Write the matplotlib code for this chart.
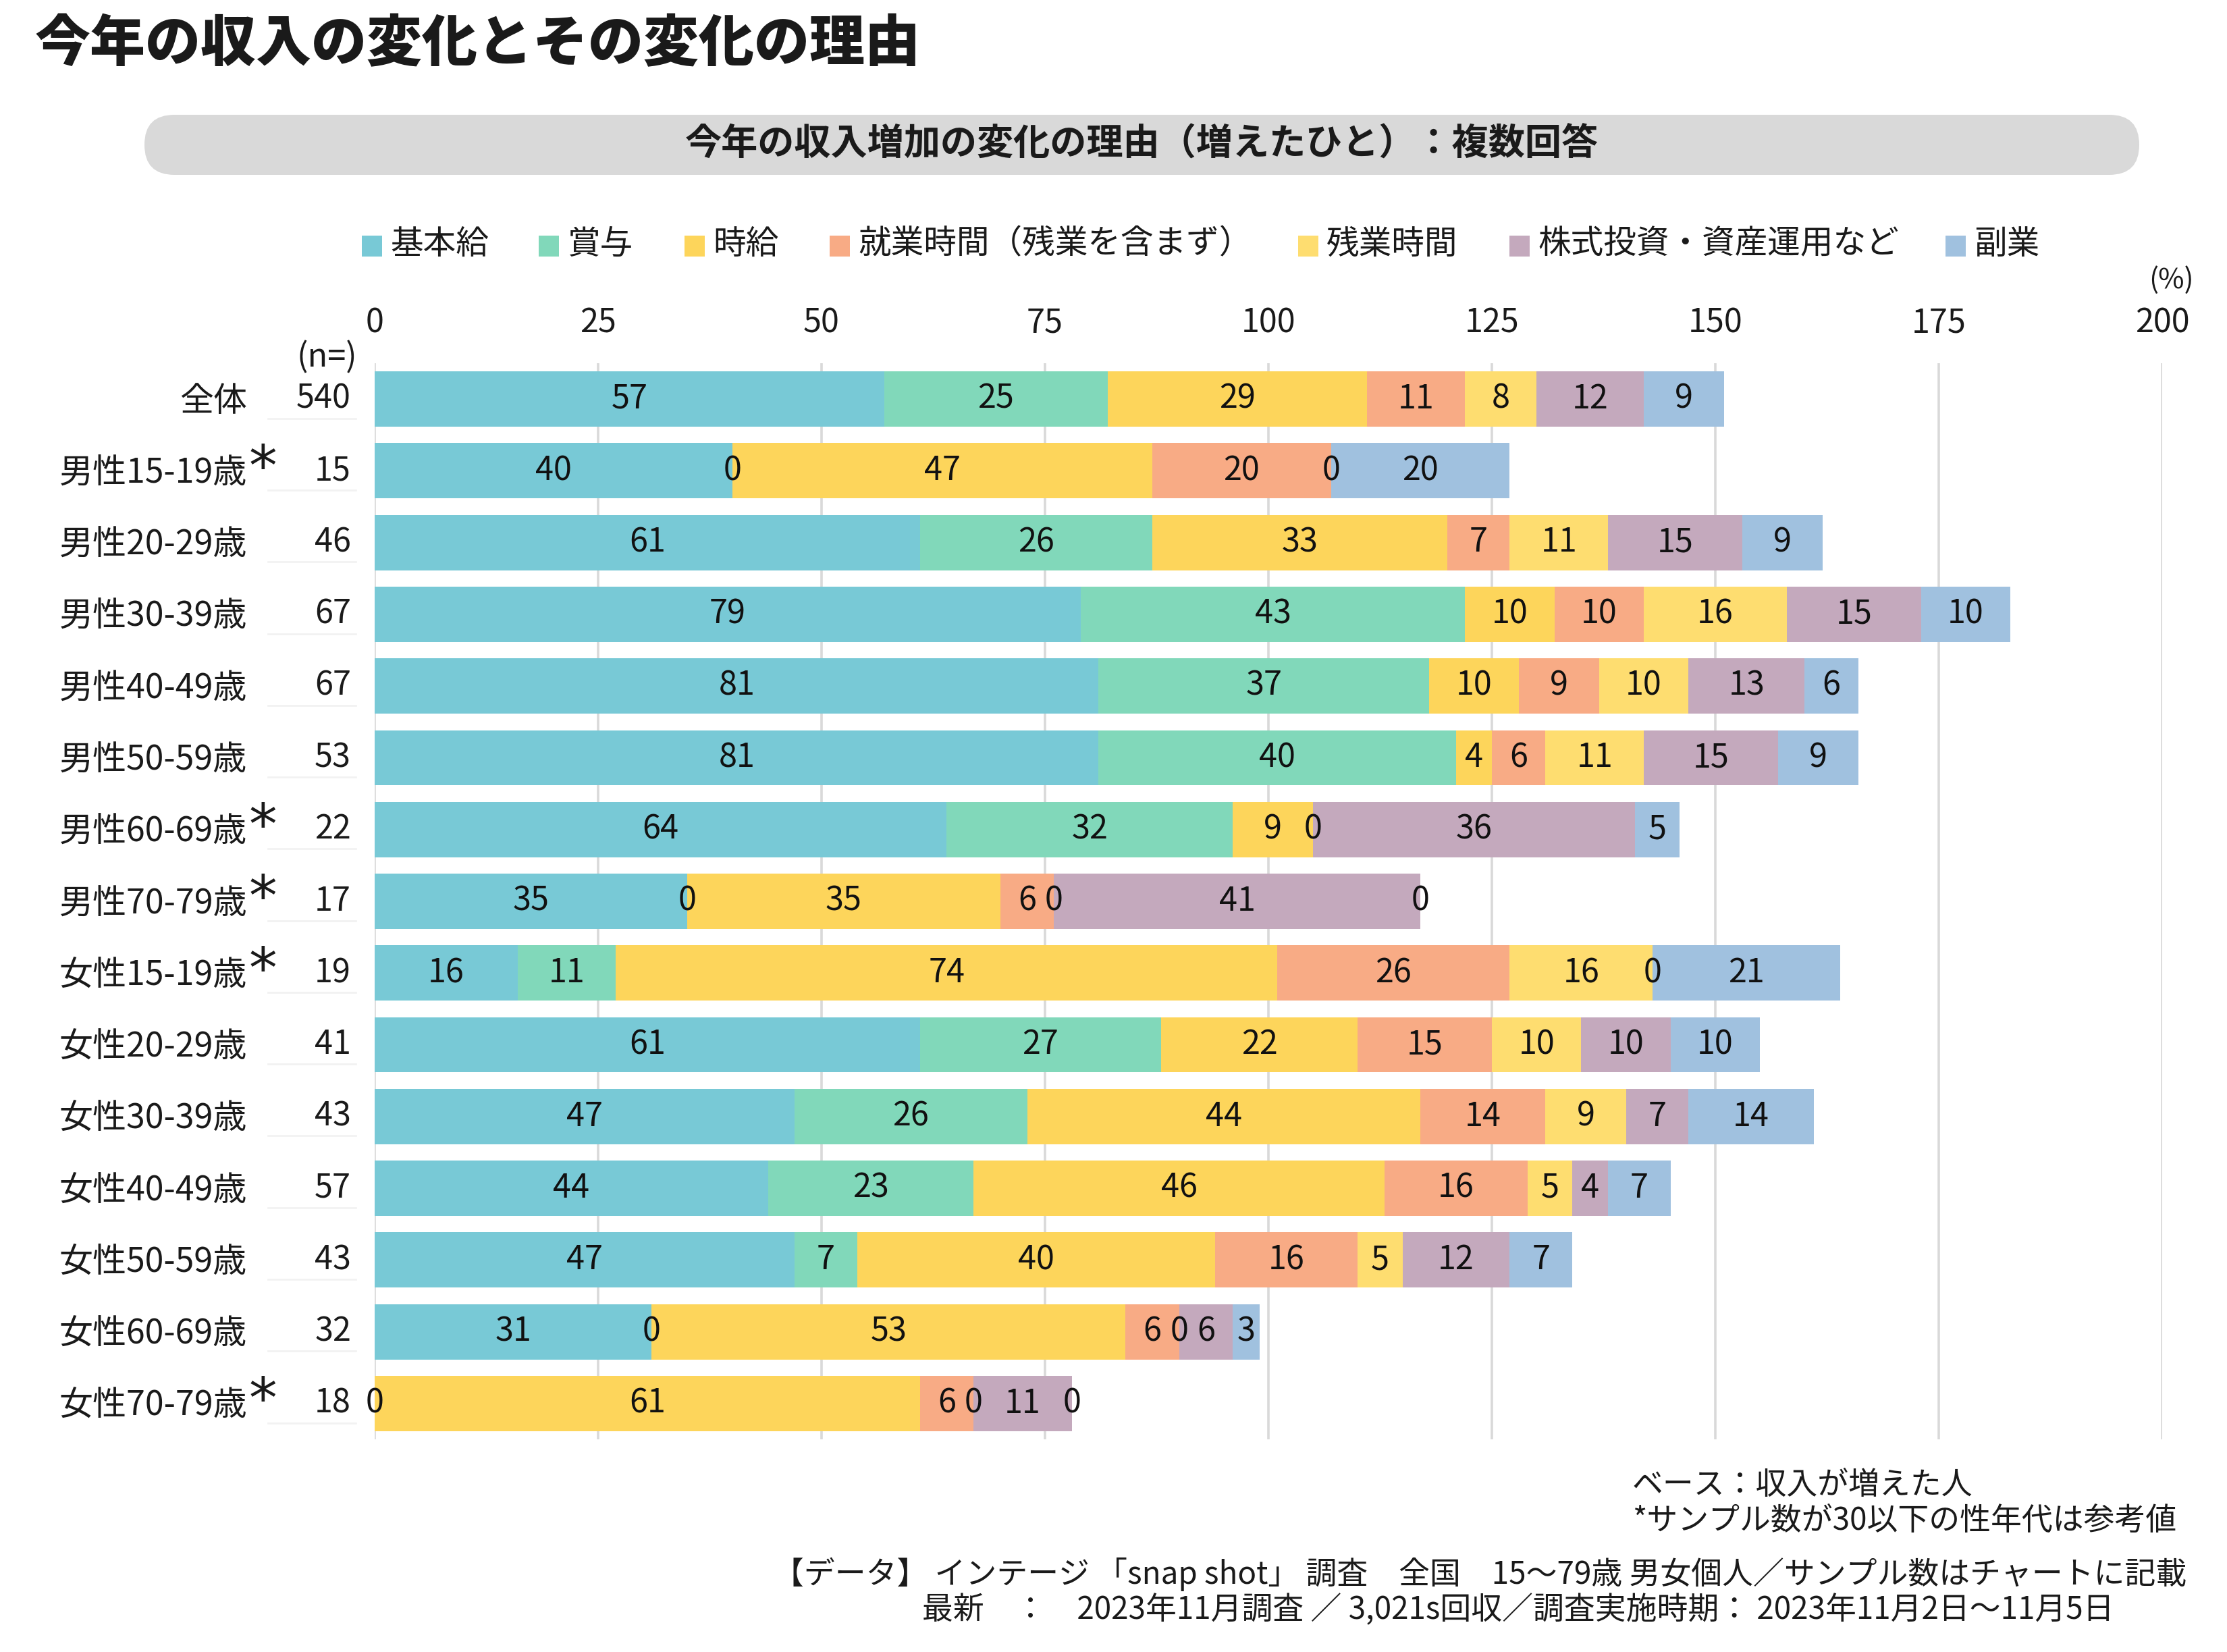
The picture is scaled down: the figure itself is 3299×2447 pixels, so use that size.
import numpy as np
import matplotlib.pyplot as plt
from matplotlib.patches import FancyBboxPatch, Rectangle

plt.rcParams['font.family'] = ['Noto Sans CJK JP', 'DejaVu Sans']

categories = ['全体', '男性15-19歳', '男性20-29歳', '男性30-39歳', '男性40-49歳', '男性50-59歳',
              '男性60-69歳', '男性70-79歳', '女性15-19歳', '女性20-29歳', '女性30-39歳',
              '女性40-49歳', '女性50-59歳', '女性60-69歳', '女性70-79歳']
n_values = [540, 15, 46, 67, 67, 53, 22, 17, 19, 41, 43, 57, 43, 32, 18]

series_names = ['基本給', '賞与', '時給', '就業時間（残業を含まず）', '残業時間', '株式投資・資産運用など', '副業']
nan = np.nan
kihonkyu = [57, 40, 61, 79, 81, 81, 64, 35, 16, 61, 47, 44, 47, 31, 0]
shoyo    = [25, 0, 26, 43, 37, 40, 32, 0, 11, 27, 26, 23, 7, 0, nan]
jikyu    = [29, 47, 33, 10, 10, 4, 9, 35, 74, 22, 44, 46, 40, 53, 61]
shugyo   = [11, 20, 7, 10, 9, 6, 0, 6, 26, 15, 14, 16, 16, 6, 6]
zangyo   = [8, 0, 11, 16, 10, 11, nan, 0, 16, 10, 9, 5, 5, 0, 0]
kabu     = [12, nan, 15, 15, 13, 15, 36, 41, 0, 10, 7, 4, 12, 6, 11]
fukugyo  = [9, 20, 9, 10, 6, 9, 5, 0, 21, 10, 14, 7, 7, 3, 0]
colors = ['#78C9D6', '#81D8BA', '#FDD55B', '#F8AB85', '#FEDD70', '#C4A9BD', '#A0C1DF']

series = [kihonkyu, shoyo, jikyu, shugyo, zangyo, kabu, fukugyo]

W, H = 3299, 2447
fig = plt.figure(figsize=(W / 200, H / 200), dpi=200)

def fx(px):
    return px / W

def fy(py):
    return 1 - py / H

# title
fig.text(fx(52), fy(66), '今年の収入の変化とその変化の理由', fontsize=29.5, fontweight='black',
         ha='left', va='center', color='#1a1a1a')

# subtitle band
band = FancyBboxPatch((214 / 200, (H - 259) / 200), (3169 - 214) / 200, 89 / 200,
                      boxstyle='round,pad=0,rounding_size=0.222', transform=fig.dpi_scale_trans,
                      facecolor='#D9D9D9', edgecolor='none')
fig.patches.append(band)
fig.text(fx(1691), fy(214), '今年の収入増加の変化の理由（増えたひと）：複数回答', fontsize=19.5,
         fontweight='bold', ha='center', va='center', color='#1a1a1a')

# legend
sq_x = [536, 798, 1014, 1229, 1923, 2236, 2882]
for name, c, x in zip(series_names, colors, sq_x):
    fig.patches.append(Rectangle((fx(x), fy(380)), fx(30), 31 / H, transform=fig.transFigure,
                                 facecolor=c, edgecolor='none'))
    fig.text(fx(x + 42), fy(362), name, fontsize=17.5, ha='left', va='center', color='#1a1a1a')

fig.text(fx(3250), fy(415), '(%)', fontsize=15, ha='right', va='center', color='#1a1a1a')

# main axes
ax = fig.add_axes([fx(555), 1 - 2132 / H, (3203 - 555) / W, (2132 - 538) / H])
y = np.arange(len(categories))
left = np.zeros(len(categories))
for vals, c in zip(series, colors):
    v = np.array(vals, dtype=float)
    w = np.nan_to_num(v)
    ax.barh(y, w, left=left, height=0.77, color=c, edgecolor='none', zorder=2)
    for i in range(len(y)):
        if not np.isnan(v[i]):
            ax.text(left[i] + w[i] / 2, y[i], f'{int(v[i])}', ha='center', va='center',
                    fontsize=17.5, color='#111111', zorder=3)
    left = left + w

ax.set_xlim(0, 200)
ax.set_ylim(14.5, -0.5)
ax.set_xticks(np.arange(0, 201, 25))
ax.xaxis.tick_top()
ax.tick_params(axis='x', length=0, labelsize=17.5, pad=12.5, labelcolor='#1a1a1a')
ax.set_yticks([])
ax.grid(axis='x', color='#D9D9D9', linewidth=1.3, zorder=0)
ax.set_axisbelow(True)
for s in ax.spines.values():
    s.set_visible(False)

trans = ax.get_yaxis_transform()
lx = (366 - 555) / (3203 - 555)
nx_ = (520 - 555) / (3203 - 555)
ax_ = (389 - 555) / (3203 - 555)
for i, (cat, n) in enumerate(zip(categories, n_values)):
    ax.text(lx, i + 0.04, cat, transform=trans, ha='right', va='center', fontsize=18,
            color='#1a1a1a', clip_on=False)
    ax.text(nx_, i, str(n), transform=trans, ha='right', va='center', fontsize=17.5,
            color='#1a1a1a', clip_on=False)
    ax.plot([(397 - 555) / 2648, (527 - 555) / 2648], [i + 0.27, i + 0.27], transform=trans,
            color='#F2F2F2', lw=1, clip_on=False)
    if n <= 30:
        ax.text(ax_, i - 0.02, '*', transform=trans, ha='center', va='center', fontsize=30,
                fontweight='normal', family=['DejaVu Sans'], color='#1a1a1a', clip_on=False)
ax.text((484 - 555) / 2648, -0.58, '(n=)', transform=trans, ha='center', va='center',
        fontsize=17.5, color='#1a1a1a', clip_on=False)

# footer
fig.text(fx(2418), fy(2200), 'ベース：収入が増えた人', fontsize=16.5, ha='left', va='center', color='#1a1a1a')
fig.text(fx(2418), fy(2253), '*サンプル数が30以下の性年代は参考値', fontsize=16.5, ha='left', va='center',
         color='#1a1a1a')
fig.text(fx(3239), fy(2332), '【データ】 インテージ 「snap shot」 調査　全国　15～79歳 男女個人／サンプル数はチャートに記載',
         fontsize=16.5, ha='right', va='center', color='#1a1a1a')
fig.text(fx(1366), fy(2385), '最新　：　2023年11月調査 ／ 3,021s回収／調査実施時期： 2023年11月2日～11月5日',
         fontsize=16.5, ha='left', va='center', color='#1a1a1a')

fig.savefig('out.png', dpi=200, facecolor='white')
